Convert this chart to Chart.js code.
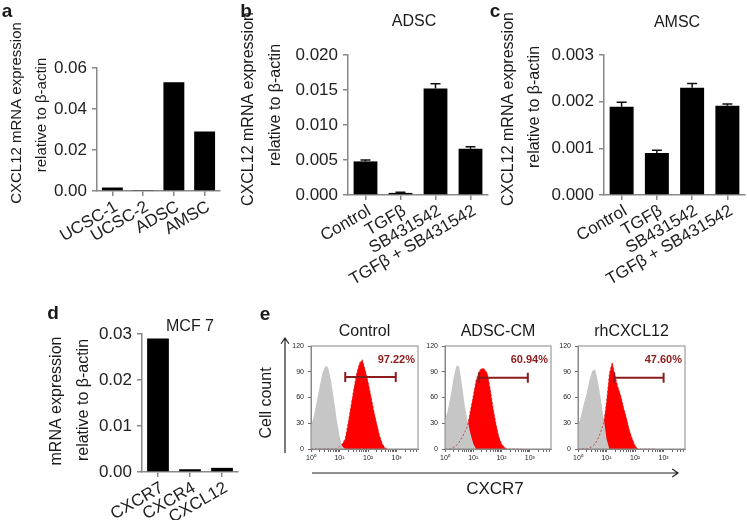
<!DOCTYPE html>
<html>
<head>
<meta charset="utf-8">
<script src="https://cdn.jsdelivr.net/npm/chart.js@4.4.1/dist/chart.umd.min.js"></script>
<style>
    body { margin: 0; background: #fff; width: 747px; height: 524px; position: relative; overflow: hidden; }
    canvas { position: absolute; }
</style>
</head>
<body>
<canvas id="graficoA" width="236" height="290" style="left:0px;top:0px"></canvas>
<canvas id="graficoB" width="260" height="290" style="left:236px;top:0px"></canvas>
<canvas id="graficoC" width="259" height="290" style="left:488px;top:0px"></canvas>
<canvas id="graficoD" width="250" height="220" style="left:0px;top:300px"></canvas>
<canvas id="histControl" width="497" height="224" style="left:250px;top:300px"></canvas>
<canvas id="histADSC" width="140" height="200" style="left:420px;top:300px"></canvas>
<canvas id="histRh" width="140" height="200" style="left:553px;top:300px"></canvas>

<script>
// ---- datos ----
const categoriasA = ["UCSC-1", "UCSC-2", "ADSC", "AMSC"];
const valoresA = [0.0017, 0.0005, 0.0530, 0.0290];

const categoriasTrat = ["Control", "TGFβ", "SB431542", "TGFβ + SB431542"];
const valoresB = [0.0048, 0.0003, 0.0152, 0.0066];
const erroresB = [0.0002, 0.0001, 0.0007, 0.0003];
const valoresC = [0.00189, 0.00090, 0.00230, 0.00191];
const erroresC = [0.00010, 0.00006, 0.00009, 0.00004];

const categoriasD = ["CXCR7", "CXCR4", "CXCL12"];
const valoresD = [0.0290, 0.0006, 0.0009];

// histogramas (eje x en log10 de la fluorescencia)
const logBins = [0.0, 0.1, 0.2, 0.3, 0.4, 0.5, 0.6, 0.7, 0.8, 0.9, 1.0, 1.1, 1.2, 1.3,
                 1.4, 1.5, 1.6, 1.7, 1.8, 1.9, 2.0, 2.1, 2.2, 2.3, 2.4, 2.5, 2.6, 2.7];
const grisControl = [27, 38, 55, 72, 88, 97, 95, 80, 58, 35, 15, 3, 0, 0, 0, 0, 0, 0, 0, 0, 0, 0, 0, 0, 0, 0, 0, 0];
const rojoControl = [0, 0, 0, 0, 0, 0, 0, 0, 0, 0, 3, 6, 12, 30, 50, 70, 88, 100, 104, 92, 78, 62, 45, 30, 16, 6, 1, 0];
const grisADSC = [34, 45, 62, 82, 97, 96, 75, 50, 33, 18, 6, 0, 0, 0, 0, 0, 0, 0, 0, 0, 0, 0, 0, 0, 0, 0, 0, 0];
const rojoADSC = [0, 0, 0, 2, 4, 8, 13, 20, 27, 45, 62, 80, 90, 94, 93, 88, 70, 48, 30, 15, 6, 2, 0, 0, 0, 0, 0, 0];
const grisRh = [28, 38, 52, 64, 80, 91, 93, 78, 58, 36, 12, 0, 0, 0, 0, 0, 0, 0, 0, 0, 0, 0, 0, 0, 0, 0, 0, 0];
const rojoRh = [0, 0, 0, 0, 1, 3, 6, 12, 20, 30, 55, 88, 101, 85, 72, 62, 48, 36, 22, 12, 4, 0, 0, 0, 0, 0, 0, 0];

const titulosE = ["Control", "ADSC-CM", "rhCXCL12"];
const porcentajes = ["97.22%", "60.94%", "47.60%"];
const gateInicio = [1.20, 1.20, 1.27];
const gateFin = [2.97, 2.93, 3.00];
const gateNivel = [84, 83, 83];

const superindices = ["⁰", "¹", "²", "³"];

// ---- estilo general ----
const FUENTE = "'Liberation Sans', Arial, sans-serif";
Chart.defaults.font.family = FUENTE;
Chart.defaults.color = "#222";

// texto libre (titulos, letras de panel)
const notasPlugin = {
    id: "notas",
    afterDraw(chart, args, opts) {
        const ctx = chart.ctx;
        (opts.items || []).forEach(n => {
            ctx.save();
            ctx.font = n.font || ("16px " + FUENTE);
            ctx.fillStyle = n.color || "#1a1a1a";
            ctx.textAlign = n.align || "center";
            ctx.textBaseline = "middle";
            let x = n.x === "mid" ? (chart.chartArea.left + chart.chartArea.right) / 2 : n.x;
            ctx.translate(x, n.y);
            if (n.rot) ctx.rotate(n.rot);
            ctx.fillText(n.text, 0, 0);
            ctx.restore();
        });
    }
};

// barras de error (solo hacia arriba)
const barrasErrorPlugin = {
    id: "barrasError",
    afterDatasetsDraw(chart, args, opts) {
        if (!opts.errores) return;
        const ctx = chart.ctx;
        const escalaY = chart.scales.y;
        const valores = chart.data.datasets[0].data;
        ctx.save();
        ctx.strokeStyle = "#111";
        ctx.lineWidth = 1.5;
        chart.getDatasetMeta(0).data.forEach((barra, i) => {
            const yTop = escalaY.getPixelForValue(valores[i] + opts.errores[i]);
            ctx.beginPath();
            ctx.moveTo(barra.x, barra.y);
            ctx.lineTo(barra.x, yTop);
            ctx.moveTo(barra.x - 5, yTop);
            ctx.lineTo(barra.x + 5, yTop);
            ctx.stroke();
        });
        ctx.restore();
    }
};

// marco, compuerta y porcentaje de los histogramas
const compuertaPlugin = {
    id: "compuerta",
    afterDatasetsDraw(chart, args, opts) {
        if (opts.inicio === undefined) return;
        const ctx = chart.ctx;
        const area = chart.chartArea;
        const x1 = chart.scales.x.getPixelForValue(opts.inicio);
        const x2 = chart.scales.x.getPixelForValue(opts.fin);
        const yy = chart.scales.y.getPixelForValue(opts.nivel);
        ctx.save();
        ctx.strokeStyle = "#8b1c1c";
        ctx.lineWidth = 2;
        ctx.beginPath();
        ctx.moveTo(x1, yy); ctx.lineTo(x2, yy);
        ctx.moveTo(x1, yy - 5); ctx.lineTo(x1, yy + 5);
        ctx.moveTo(x2, yy - 5); ctx.lineTo(x2, yy + 5);
        ctx.stroke();
        ctx.font = "bold 11px " + FUENTE;
        ctx.fillStyle = "#8b1c1c";
        ctx.textAlign = "right";
        ctx.textBaseline = "middle";
        ctx.fillText(opts.texto, area.right - 3, area.top + 14);
        ctx.strokeStyle = "#888";
        ctx.lineWidth = 1;
        ctx.strokeRect(area.left, area.top, area.right - area.left, area.bottom - area.top);
        ctx.restore();
    }
};

// flechas de los ejes del panel e
const flechasPlugin = {
    id: "flechas",
    afterDraw(chart, args, opts) {
        if (!opts.lineas) return;
        const ctx = chart.ctx;
        ctx.save();
        ctx.strokeStyle = "#222";
        ctx.lineWidth = 1.2;
        opts.lineas.forEach(l => {
            const ang = Math.atan2(l.y2 - l.y1, l.x2 - l.x1);
            ctx.beginPath();
            ctx.moveTo(l.x1, l.y1);
            ctx.lineTo(l.x2, l.y2);
            ctx.moveTo(l.x2 - 7 * Math.cos(ang - 0.6), l.y2 - 7 * Math.sin(ang - 0.6));
            ctx.lineTo(l.x2, l.y2);
            ctx.lineTo(l.x2 - 7 * Math.cos(ang + 0.6), l.y2 - 7 * Math.sin(ang + 0.6));
            ctx.stroke();
        });
        ctx.restore();
    }
};

Chart.register(notasPlugin, barrasErrorPlugin, compuertaPlugin, flechasPlugin);

function ejeGris(tick) {
    return {
        display: true,
        drawOnChartArea: false,
        drawTicks: true,
        tickLength: tick,
        color: "#888",
        lineWidth: 1.5,
        offset: false
    };
}

function crearBarras(idCanvas, etiquetas, valores, errores, escala, area, notas) {
    const ctx = document.getElementById(idCanvas).getContext("2d");
    return new Chart(ctx, {
        type: "bar",
        data: {
            labels: etiquetas,
            datasets: [{
                data: valores,
                backgroundColor: "#000",
                borderWidth: 0,
                categoryPercentage: 1,
                barPercentage: 0.68
            }]
        },
        options: {
            responsive: false,
            animation: false,
            layout: { padding: { left: 0, top: area.top, right: area.right, bottom: 0 } },
            plugins: {
                legend: { display: false },
                tooltip: { enabled: false },
                barrasError: { errores: errores },
                notas: { items: notas }
            },
            scales: {
                x: {
                    grid: ejeGris(5),
                    border: { color: "#888", width: 1.5 },
                    ticks: { font: { size: 17 }, minRotation: 30, maxRotation: 30, autoSkip: false, padding: 1, labelOffset: 4 },
                    afterFit: s => { s.height = area.alto; }
                },
                y: {
                    min: 0,
                    max: escala.max,
                    grid: ejeGris(5),
                    border: { color: "#888", width: 1.5 },
                    ticks: {
                        stepSize: escala.paso,
                        font: { size: 17 },
                        padding: 5,
                        callback: v => v.toFixed(escala.dec)
                    },
                    afterFit: s => { s.width = area.ancho; }
                }
            }
        }
    });
}

const letra = "bold 19px " + FUENTE;
const titulo = "16px " + FUENTE;

crearBarras("graficoA", categoriasA, valoresA, null,
    { max: 0.06, paso: 0.02, dec: 2 },
    { top: 68, right: 16, ancho: 97, alto: 99 },
    [
        { text: "a", x: 7, y: 12, font: letra },
        { text: "CXCL12 mRNA expression", x: 17, y: 113, rot: -Math.PI / 2, font: "15px " + FUENTE },
        { text: "relative to β-actin", x: 42, y: 115, rot: -Math.PI / 2, font: "15px " + FUENTE }
    ]);

crearBarras("graficoB", categoriasTrat, valoresB, erroresB,
    { max: 0.02, paso: 0.005, dec: 3 },
    { top: 55, right: 8, ancho: 112, alto: 95 },
    [
        { text: "b", x: 10, y: 12, font: letra },
        { text: "ADSC", x: 178, y: 22, font: titulo },
        { text: "CXCL12 mRNA expression", x: 13, y: 109, rot: -Math.PI / 2, font: titulo },
        { text: "relative to β-actin", x: 40, y: 105, rot: -Math.PI / 2, font: titulo }
    ]);

crearBarras("graficoC", categoriasTrat, valoresC, erroresC,
    { max: 0.003, paso: 0.001, dec: 3 },
    { top: 55, right: 2, ancho: 116, alto: 95 },
    [
        { text: "c", x: 7, y: 12, font: letra },
        { text: "AMSC", x: 189, y: 23, font: titulo },
        { text: "CXCL12 mRNA expression", x: 21, y: 109, rot: -Math.PI / 2, font: titulo },
        { text: "relative to β-actin", x: 47, y: 107, rot: -Math.PI / 2, font: titulo }
    ]);

crearBarras("graficoD", categoriasD, valoresD, null,
    { max: 0.03, paso: 0.01, dec: 2 },
    { top: 34, right: 12, ancho: 142, alto: 48 },
    [
        { text: "d", x: 53, y: 14, font: letra },
        { text: "MCF 7", x: 190, y: 27, font: titulo },
        { text: "mRNA expression", x: 57, y: 401 - 300, rot: -Math.PI / 2, font: titulo },
        { text: "relative to β-actin", x: 84, y: 400 - 300, rot: -Math.PI / 2, font: titulo }
    ]);

// ticks mayores y menores del eje logaritmico
const ticksLog = [];
[0, 1, 2, 3].forEach(d => {
    ticksLog.push(d);
    for (let k = 2; k <= 9; k++) {
        if (d + Math.log10(k) <= 3.75) ticksLog.push(d + Math.log10(k));
    }
});

function puntos(valores) {
    return logBins.map((x, i) => ({ x: x, y: valores[i] }));
}

function crearHistograma(idCanvas, i, gris, rojo, area, notas, flechas) {
    const ctx = document.getElementById(idCanvas).getContext("2d");
    return new Chart(ctx, {
        type: "line",
        data: {
            datasets: [
                { data: puntos(rojo), backgroundColor: "#ff0000", borderWidth: 0, fill: "origin", pointRadius: 0, order: 3 },
                { data: puntos(gris), backgroundColor: "#c6c6c6", borderWidth: 0, fill: "origin", pointRadius: 0, order: 2 },
                { data: puntos(rojo), borderColor: "rgba(200,40,40,0.8)", borderWidth: 1, borderDash: [2, 2], fill: false, pointRadius: 0, order: 1 }
            ]
        },
        options: {
            responsive: false,
            animation: false,
            layout: { padding: { left: 0, top: 46, right: area.right, bottom: area.abajo } },
            plugins: {
                legend: { display: false },
                tooltip: { enabled: false },
                compuerta: { inicio: gateInicio[i], fin: gateFin[i], nivel: gateNivel[i], texto: porcentajes[i] },
                notas: { items: [{ text: titulosE[i], x: "mid", y: 32, font: "16px " + FUENTE }].concat(notas) },
                flechas: { lineas: flechas }
            },
            scales: {
                x: {
                    type: "linear",
                    min: 0,
                    max: 3.75,
                    grid: { drawOnChartArea: false, tickLength: 3, color: "#666" },
                    border: { color: "#888" },
                    afterBuildTicks: eje => { eje.ticks = ticksLog.map(v => ({ value: v })); },
                    ticks: {
                        font: { size: 7 },
                        padding: 2,
                        autoSkip: false,
                        maxRotation: 0,
                        callback: v => Number.isInteger(v) ? "10" + superindices[v] : ""
                    },
                    afterFit: s => { s.height = 18; }
                },
                y: {
                    min: 0,
                    max: 120,
                    grid: { drawOnChartArea: false, tickLength: 3, color: "#666" },
                    border: { color: "#888" },
                    ticks: { stepSize: 30, font: { size: 7 }, padding: 4 },
                    afterFit: s => { s.width = area.ancho; }
                }
            }
        }
    });
}

crearHistograma("histControl", 0, grisControl, rojoControl,
    { right: 329, abajo: 57, ancho: 61 },
    [
        { text: "e", x: 15, y: 15, font: letra },
        { text: "Cell count", x: 17, y: 103, rot: -Math.PI / 2, font: "16px " + FUENTE },
        { text: "CXCR7", x: 245, y: 189, font: "17px " + FUENTE }
    ],
    [
        { x1: 35, y1: 153, x2: 35, y2: 38 },
        { x1: 62, y1: 173, x2: 428, y2: 173 }
    ]);

crearHistograma("histADSC", 1, grisADSC, rojoADSC,
    { right: 9, abajo: 33, ancho: 25 }, [], null);

crearHistograma("histRh", 2, grisRh, rojoRh,
    { right: 8, abajo: 33, ancho: 25 }, [], null);
</script>
</body>
</html>
